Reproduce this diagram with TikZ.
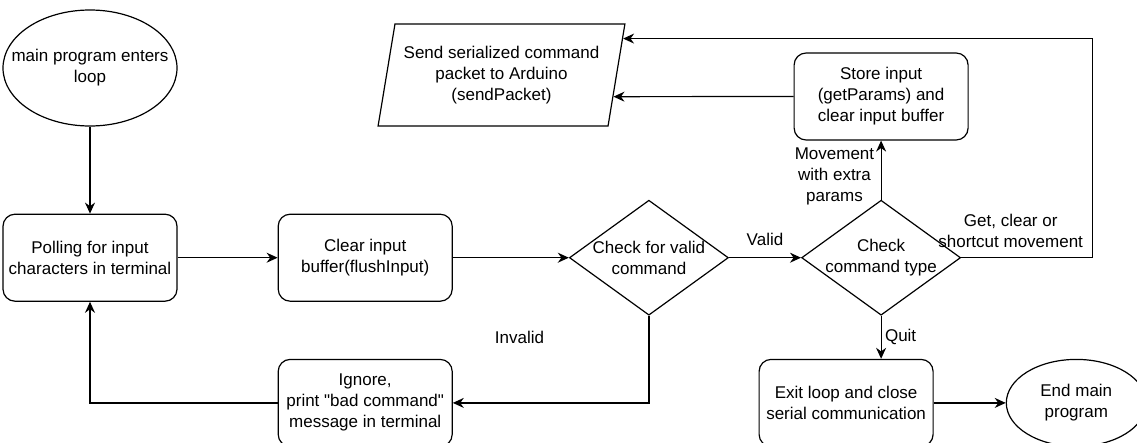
\documentclass[tikz,border=0pt]{standalone}
\usepackage{fontspec}
\setmainfont{Liberation Sans}
\usetikzlibrary{positioning,arrows.meta,calc,shapes.geometric}

\tikzset{
  proc/.style={draw, rectangle, rounded corners=12pt, minimum width=174pt, minimum height=87pt, align=center, inner sep=2pt},
  term/.style={draw, ellipse, minimum width=174pt, minimum height=116pt, align=center, inner sep=0pt},
  decide/.style={draw, diamond, minimum width=159pt, minimum height=115pt, inner sep=0pt},
  io/.style={draw, trapezium, trapezium left angle=75, trapezium right angle=105, trapezium stretches=true, minimum width=247pt, minimum height=102pt, align=center, inner sep=0pt},
}

\begin{document}
\begin{tikzpicture}[x=1pt, y=-1pt, ->, >={Stealth[length=11pt,width=10pt]}, line width=1.2pt, font=\fontsize{17}{21}\selectfont]
    \useasboundingbox (0,0) rectangle (1137,442);

    \node[term, label={[align=center]center:main program enters\\loop}] (start) at (90,68) {};
    \node[proc] (poll) [below=87pt of start] {Polling for input\\characters in terminal};
    \node[proc] (flush) [right=100pt of poll] {Clear input\\buffer(flushInput)};
    \node[decide, label={[align=center]center:Check for valid\\command}] (valid) [right=116pt of flush] {};
    \node[decide, label={[align=center]center:Check\\command type}] (type) [right=72pt of valid] {};
    \node[proc] (store) [above=59pt of type] {Store input\\(getParams) and\\clear input buffer};
    \node[io] (send) at (501.5,75) {Send serialized command\\packet to Arduino\\(sendPacket)};
    \node[proc] (ignore) [below=57pt of flush] {Ignore,\\print \textquotedbl bad command\textquotedbl\\message in terminal};
    \node[proc] (exit) [below=43pt of type, xshift=-35pt] {Exit loop and close\\serial communication};
    \node[term, minimum width=140pt, minimum height=87pt] (end) [right=72pt of exit] {End main\\program};

    \coordinate (tipA) at ($(send.bottom right corner)!0.853!(send.top right corner)$);
    \coordinate (tipB) at ($(send.bottom right corner)!0.29!(send.top right corner)$);

    \draw (start) -- (poll);
    \draw (poll) -- (flush);
    \draw (flush) -- (valid);
    \draw (valid) -- node[above=8pt] {Valid} (type);
    \draw (valid.south) |- node[pos=0.83, yshift=65pt] {Invalid} (ignore.east);
    \draw (ignore.west) -| (poll.south);
    \draw (type.north) -- node[left=3pt, align=center, pos=0.4] {Movement\\with extra\\params} (store.south);
    \draw (type.south) -- node[right] {Quit} (type.south |- exit.north);
    \draw (exit) -- (end);
    \draw (store.west) -- (tipB);
    \draw (type.east) -- node[above=6pt, align=center, xshift=-16pt] {Get, clear or\\shortcut movement} ++(131,0) |- (tipA);
\end{tikzpicture}
\end{document}
